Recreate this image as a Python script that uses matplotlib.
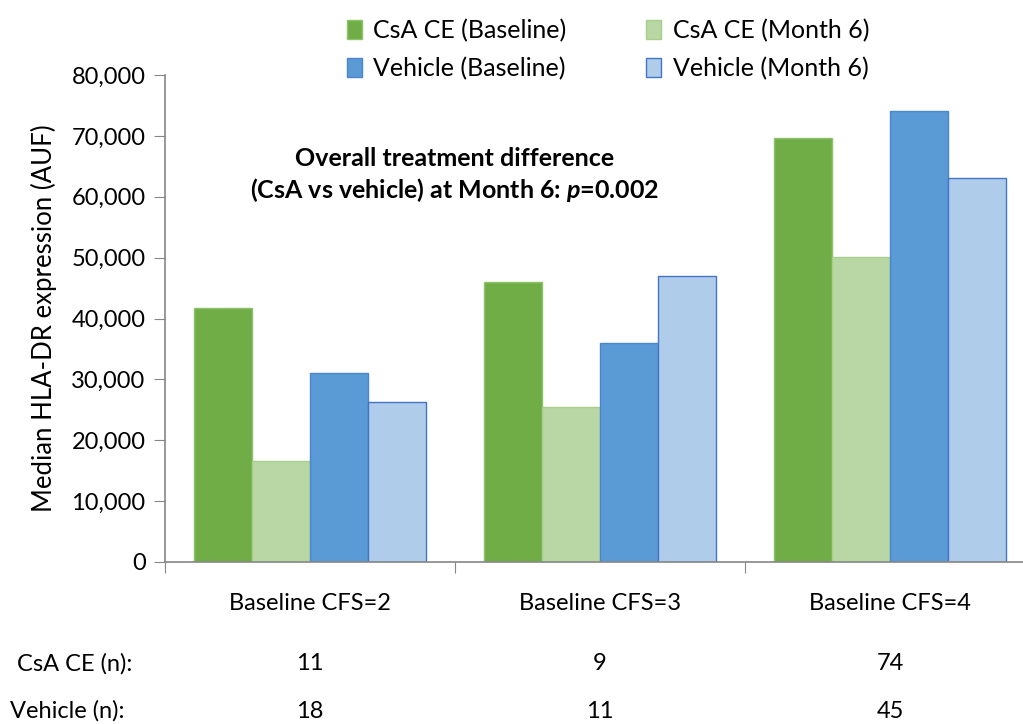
import numpy as np
import matplotlib
matplotlib.use("Agg")
import matplotlib.pyplot as plt
import matplotlib.transforms as mtransforms
from matplotlib.ticker import StrMethodFormatter, FixedLocator

plt.rcParams['font.family'] = ['Lato', 'DejaVu Sans']
plt.rcParams['mathtext.fontset'] = 'custom'
plt.rcParams['mathtext.rm'] = 'Lato:bold'
plt.rcParams['mathtext.it'] = 'Lato:bold:italic'
plt.rcParams['mathtext.bf'] = 'Lato:bold'

categories = ["Baseline CFS=2", "Baseline CFS=3", "Baseline CFS=4"]
series_names = ["CsA CE (Baseline)", "CsA CE (Month 6)", "Vehicle (Baseline)", "Vehicle (Month 6)"]
csa_base = [41700, 46000, 69600]
csa_m6 = [16600, 25500, 50100]
veh_base = [31000, 36000, 74100]
veh_m6 = [26300, 47000, 63100]
n_csa = [11, 9, 74]
n_veh = [18, 11, 45]

fills = ["#70AD47", "#B9D7A4", "#5B9BD5", "#AFCDEA"]
edges = ["#8CC36A", "#A6CF8C", "#4A86CF", "#4472C4"]

fig = plt.figure(figsize=(10.23, 7.24), dpi=100)
ax = fig.add_axes([165/1023, 162/724, 870/1023, 487/724])

x = np.arange(len(categories))
w = 0.2
handles = []
for i, (vals, name) in enumerate(zip([csa_base, csa_m6, veh_base, veh_m6], series_names)):
    b = ax.bar(x + (i - 1.5) * w, vals, w, color=fills[i], edgecolor=edges[i],
               linewidth=1, label=name)
    handles.append(b)

fs = 17
ax.set_xlim(-0.5, 2.5)
ax.set_ylim(0, 80000)
ax.set_yticks(np.arange(0, 80001, 10000))
ax.yaxis.set_major_formatter(StrMethodFormatter('{x:,.0f}'))
ax.xaxis.set_major_locator(FixedLocator([-0.5, 0.5, 1.5, 2.5]))
ax.xaxis.set_major_formatter(plt.NullFormatter())
ax.set_xticks(x, minor=True)
ax.set_xticklabels(categories, minor=True)
ax.tick_params(axis='x', which='minor', length=0, pad=22, labelsize=fs)
ax.tick_params(axis='x', which='major', length=8, direction='out', color='#868686')
ax.tick_params(axis='y', length=8, direction='out', color='#868686', labelsize=fs, pad=6)
for s in ['top', 'right']:
    ax.spines[s].set_visible(False)
for s in ['left', 'bottom']:
    ax.spines[s].set_color('#868686')
    ax.spines[s].set_linewidth(1.2)

ax.set_ylabel("Median HLA-DR expression (AUF)", fontsize=18.5, labelpad=10)

ax.text(0.5, 63500, "Overall treatment difference\n(CsA vs vehicle) at Month 6: $p$=0.002",
        ha='center', va='center', fontsize=18, fontweight='bold', linespacing=1.25)

# n table under the chart
trans = mtransforms.blended_transform_factory(ax.transData, fig.transFigure)
fig.text(17/1023, 1 - 664/724, "CsA CE (n):", fontsize=fs, va='center')
fig.text(10/1023, 1 - 711/724, "Vehicle (n):", fontsize=fs, va='center')
for xi, a, b in zip(x, n_csa, n_veh):
    ax.text(xi, 1 - 664/724, str(a), transform=trans, ha='center', va='center', fontsize=fs)
    ax.text(xi, 1 - 711/724, str(b), transform=trans, ha='center', va='center', fontsize=fs)

fig.legend([handles[0], handles[2], handles[1], handles[3]],
           [series_names[0], series_names[2], series_names[1], series_names[3]],
           ncol=2, loc='upper center', bbox_to_anchor=(608/1023, 1.005), frameon=False,
           fontsize=18, handlelength=0.6, handleheight=0.8, handletextpad=0.45,
           columnspacing=3.2, labelspacing=0.6)

fig.savefig("out.png", dpi=100)
